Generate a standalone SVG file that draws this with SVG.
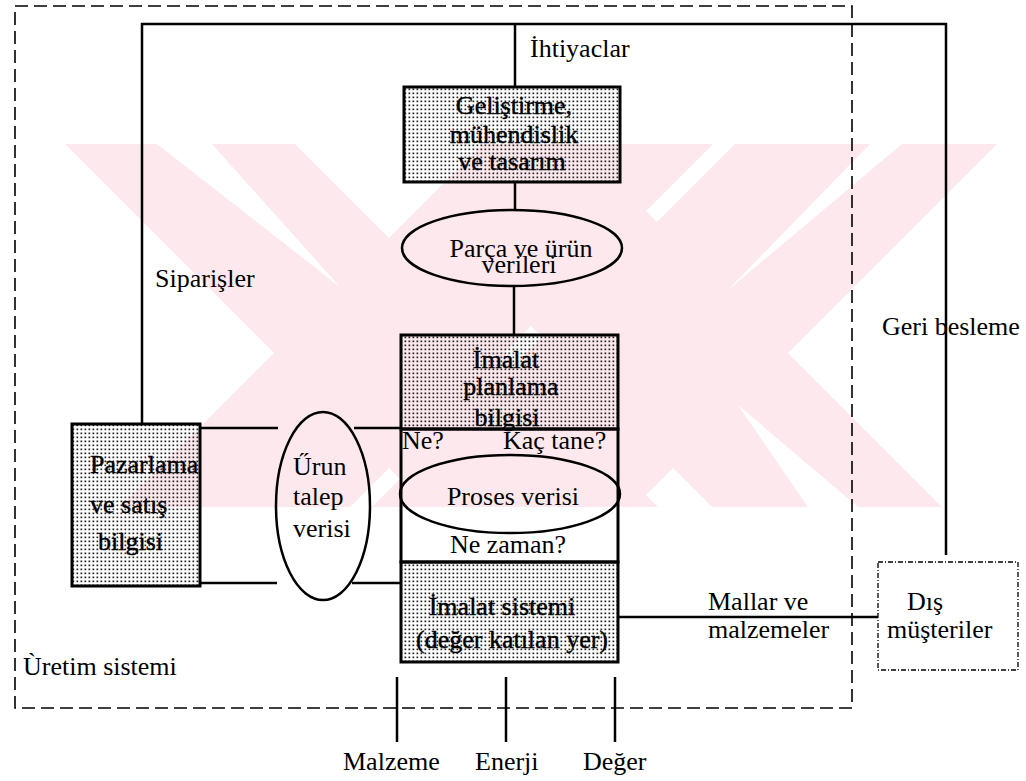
<svg xmlns="http://www.w3.org/2000/svg" width="1026" height="781" viewBox="0 0 1026 781">
  <defs>
    <pattern id="dots" width="4" height="4" patternUnits="userSpaceOnUse">
      <rect x="0.5" y="0.5" width="1.7" height="1.7" fill="#222"/>
    </pattern>
    <style>
      text { font-family: "Liberation Serif", "Times New Roman", serif; font-size: 26px; fill: #000; }
      .boxtxt { stroke: #000; stroke-width: 0.4px; }
      .mid { text-anchor: middle; }
      .box { fill: url(#dots); stroke: #000; stroke-width: 3; }
      .frame { fill: none; stroke: #000; stroke-width: 3; }
      .oval { fill: none; stroke: #000; stroke-width: 2.5; }
      .wire { fill: none; stroke: #000; stroke-width: 2.5; }
      .boundary { fill: none; stroke: #000; stroke-width: 1.6; stroke-dasharray: 13 6; }
      .ext { fill: none; stroke: #000; stroke-width: 1.3; stroke-dasharray: 5 2 1 2; }
      .wm { fill: #fde9ed; }
      .wm-gap { fill: #fff; }
    </style>
  </defs>

  <rect width="1026" height="781" fill="#fff"/>

  <!-- background watermark: two crossed band pairs -->
  <g id="watermark">
    <polygon class="wm" points="65,144 295,144 658,507 428,507"/>
    <polygon class="wm" points="483,144 713,144 350,507 120,507"/>
    <polygon class="wm" points="735,144 997,144 634,507 372,507"/>
    <polygon class="wm" points="416,211 646,211 942,507 712,507"/>
    <polygon class="wm-gap" points="157,144 212,144 340,287"/>
    <polygon class="wm-gap" points="870,144 902,144 728,290"/>
    <polygon class="wm-gap" points="738,405 808,507 858,507"/>
  </g>

  <!-- production system boundary -->
  <rect class="boundary" x="15" y="6" width="837" height="702"/>
  <text x="23" y="675">Ùretim sistemi</text>

  <!-- connectors -->
  <g id="connectors">
    <polyline class="wire" points="142,425 142,24 946,24 946,555"/>
    <line class="wire" x1="515" y1="24" x2="515" y2="87"/>
    <line class="wire" x1="515" y1="182" x2="515" y2="210"/>
    <line class="wire" x1="514" y1="287" x2="514" y2="335"/>
    <line class="wire" x1="200" y1="428" x2="278" y2="428"/>
    <line class="wire" x1="354" y1="428" x2="401" y2="428"/>
    <line class="wire" x1="200" y1="583" x2="277" y2="583"/>
    <line class="wire" x1="352" y1="583" x2="400" y2="583"/>
    <line class="wire" x1="618" y1="617" x2="878" y2="617"/>
    <line class="wire" x1="397" y1="677" x2="397" y2="742"/>
    <line class="wire" x1="506" y1="677" x2="506" y2="742"/>
    <line class="wire" x1="615" y1="677" x2="615" y2="742"/>
    <text x="530" y="57">İhtiyaclar</text>
    <text x="155" y="287">Siparişler</text>
    <text x="882" y="335">Geri besleme</text>
    <text x="708" y="610">Mallar ve</text>
    <text x="708" y="638">malzemeler</text>
    <text x="343" y="770">Malzeme</text>
    <text x="475" y="770">Enerji</text>
    <text x="583" y="770">Değer</text>
  </g>

  <!-- development, engineering and design -->
  <g id="gelistirme">
    <rect class="box" x="404" y="87" width="216" height="95"/>
    <text class="mid boxtxt" x="514" y="114">Geliştirme,</text>
    <text class="mid boxtxt" x="514" y="143">mühendislik</text>
    <text class="mid boxtxt" x="512" y="170">ve tasarım</text>
  </g>

  <!-- part and product data -->
  <g id="parca-verileri">
    <ellipse class="oval" cx="512" cy="248" rx="110" ry="38"/>
    <text class="mid" x="521" y="257">Parça ve ürün</text>
    <text class="mid" x="519" y="273">verileri</text>
  </g>

  <!-- manufacturing planning -->
  <g id="imalat-planlama">
    <rect class="box" x="401" y="335" width="217" height="94"/>
    <text class="mid boxtxt" x="506" y="368">İmalat</text>
    <text class="mid boxtxt" x="511" y="395">planlama</text>
    <text class="mid boxtxt" x="507" y="426">bilgisi</text>
  </g>

  <!-- process data: what, how many, when -->
  <g id="proses">
    <rect class="frame" x="401" y="429" width="217" height="133"/>
    <text x="402" y="449">Ne?</text>
    <text x="503" y="449">Kaç tane?</text>
    <ellipse class="oval" cx="510" cy="494" rx="110" ry="39"/>
    <text class="mid" x="513" y="505">Proses verisi</text>
    <text class="mid" x="508" y="553">Ne zaman?</text>
  </g>

  <!-- manufacturing system -->
  <g id="imalat-sistemi">
    <rect class="box" x="401" y="562" width="217" height="100"/>
    <text class="mid boxtxt" x="502" y="615">İmalat sistemi</text>
    <text class="mid boxtxt" x="512" y="648">(değer katılan yer)</text>
  </g>

  <!-- marketing and sales -->
  <g id="pazarlama">
    <rect class="box" x="72" y="424" width="128" height="162"/>
    <text class="boxtxt" x="90" y="473">Pazarlama</text>
    <text class="boxtxt" x="90" y="513">ve satış</text>
    <text class="boxtxt" x="98" y="550">bilgisi</text>
  </g>

  <!-- product demand data -->
  <g id="urun-talep">
    <ellipse class="oval" cx="323" cy="506" rx="47" ry="94"/>
    <text x="293" y="475">Űrun</text>
    <text x="293" y="505">talep</text>
    <text x="293" y="537">verisi</text>
  </g>

  <!-- external customers -->
  <g id="dis-musteriler">
    <rect class="ext" x="878" y="562" width="140" height="108"/>
    <text x="907" y="610">Dış</text>
    <text x="887" y="638">müşteriler</text>
  </g>
</svg>
